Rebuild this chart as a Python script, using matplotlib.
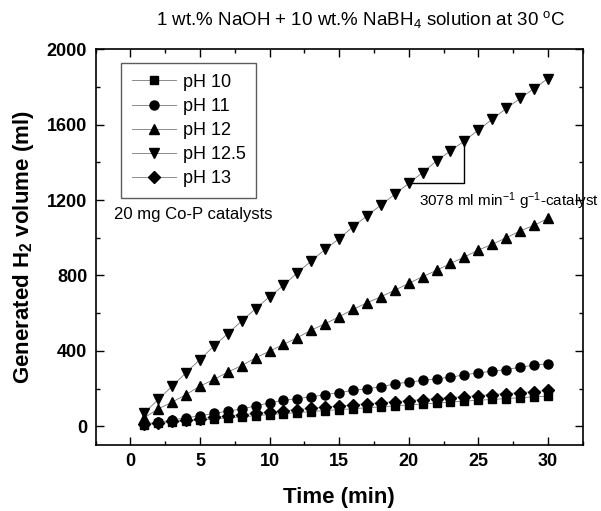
import matplotlib
matplotlib.use("Agg")
import matplotlib.pyplot as plt
from matplotlib.ticker import MultipleLocator

plt.rcParams['font.family'] = ['Liberation Sans', 'DejaVu Sans']
plt.rcParams['mathtext.default'] = 'regular'

# Hydrogen generation over time, 20 mg Co-P catalysts at different pH
time_min = [1, 2, 3, 4, 5, 6, 7, 8, 9, 10, 11, 12, 13, 14, 15,
            16, 17, 18, 19, 20, 21, 22, 23, 24, 25, 26, 27, 28, 29, 30]

ph10 = [8, 15, 21, 27, 33, 39, 45, 50, 56, 62, 67, 72, 78, 83, 88,
        93, 98, 103, 108, 113, 118, 123, 128, 133, 138, 142, 147, 151, 156, 160]
ph11 = [12, 22, 33, 45, 55, 68, 80, 92, 108, 124, 137, 147, 156, 167, 179,
        190, 199, 209, 225, 234, 243, 252, 260, 273, 283, 292, 301, 313, 324, 332]
ph12 = [45, 92, 128, 168, 213, 248, 287, 322, 363, 398, 434, 470, 510, 544, 581,
        620, 655, 687, 722, 758, 794, 827, 864, 898, 935, 965, 1000, 1036, 1066, 1103]
ph125 = [71, 142, 212, 284, 354, 425, 492, 558, 624, 687, 747, 815, 877, 939, 995,
         1059, 1116, 1174, 1231, 1289, 1346, 1408, 1461, 1514, 1572, 1629, 1686, 1739, 1792, 1845]
ph13 = [10, 18, 26, 33, 40, 48, 55, 62, 68, 75, 82, 88, 95, 101, 107,
        113, 119, 125, 130, 136, 141, 147, 152, 157, 162, 168, 173, 178, 184, 190]

labels = ['pH 10', 'pH 11', 'pH 12', 'pH 12.5', 'pH 13']
markers = ['s', 'o', '^', 'v', 'D']
sizes = [6, 6.5, 7.5, 7.5, 6]
series = [ph10, ph11, ph12, ph125, ph13]

fig = plt.figure(figsize=(6.01, 5.11), dpi=100)
ax = fig.add_axes([0.159, 0.129, 0.8106, 0.7745])

for vals, lab, mk, ms in zip(series, labels, markers, sizes):
    ax.plot(time_min, vals, marker=mk, ms=ms, color='#777777', lw=0.6,
            mfc='black', mec='black', label=lab)

# slope guide on the pH 12.5 curve between 20 and 24 min
i0, i1 = time_min.index(20), time_min.index(24)
ax.plot([time_min[i0], time_min[i1], time_min[i1]],
        [ph125[i0], ph125[i0], ph125[i1]], color='black', lw=1)
ax.text(20.75, 1195, r'3078 ml min$^{-1}$ g$^{-1}$-catalyst', fontsize=11,
        va='center', ha='left', clip_on=False)
ax.text(-1.15, 1125, '20 mg Co-P catalysts', fontsize=12, va='center', ha='left')

ax.set_xlim(-2.5, 32.5)
ax.set_ylim(-100, 2000)
ax.xaxis.set_major_locator(MultipleLocator(5))
ax.xaxis.set_minor_locator(MultipleLocator(2.5))
ax.yaxis.set_major_locator(MultipleLocator(400))
ax.yaxis.set_minor_locator(MultipleLocator(200))
ax.tick_params(which='both', direction='in', top=True, right=True, width=1)
ax.tick_params(which='major', length=5.5, labelsize=13, pad=6)
ax.tick_params(which='minor', length=3)
for lbl in ax.get_xticklabels() + ax.get_yticklabels():
    lbl.set_fontweight('bold')
for sp in ax.spines.values():
    sp.set_linewidth(1.2)

ax.set_xlabel('Time (min)', fontsize=16, fontweight='bold', labelpad=12)
ax.set_ylabel(r'Generated H$_2$ volume (ml)', fontsize=16, fontweight='bold', labelpad=8)

fig.text(0.601, 0.961, r'1 wt.% NaOH + 10 wt.% NaBH$_4$ solution at 30 $^{o}$C',
         fontsize=13.5, ha='center', va='center')

leg = ax.legend(loc='upper left', bbox_to_anchor=(0.053, 0.966), borderaxespad=0,
                fontsize=13, frameon=True, fancybox=False, handlelength=2.4,
                labelspacing=0.4, borderpad=0.6, handletextpad=0.4)
leg.get_frame().set_edgecolor('#333333')
leg.get_frame().set_linewidth(1)

fig.savefig('out.png', dpi=100)
